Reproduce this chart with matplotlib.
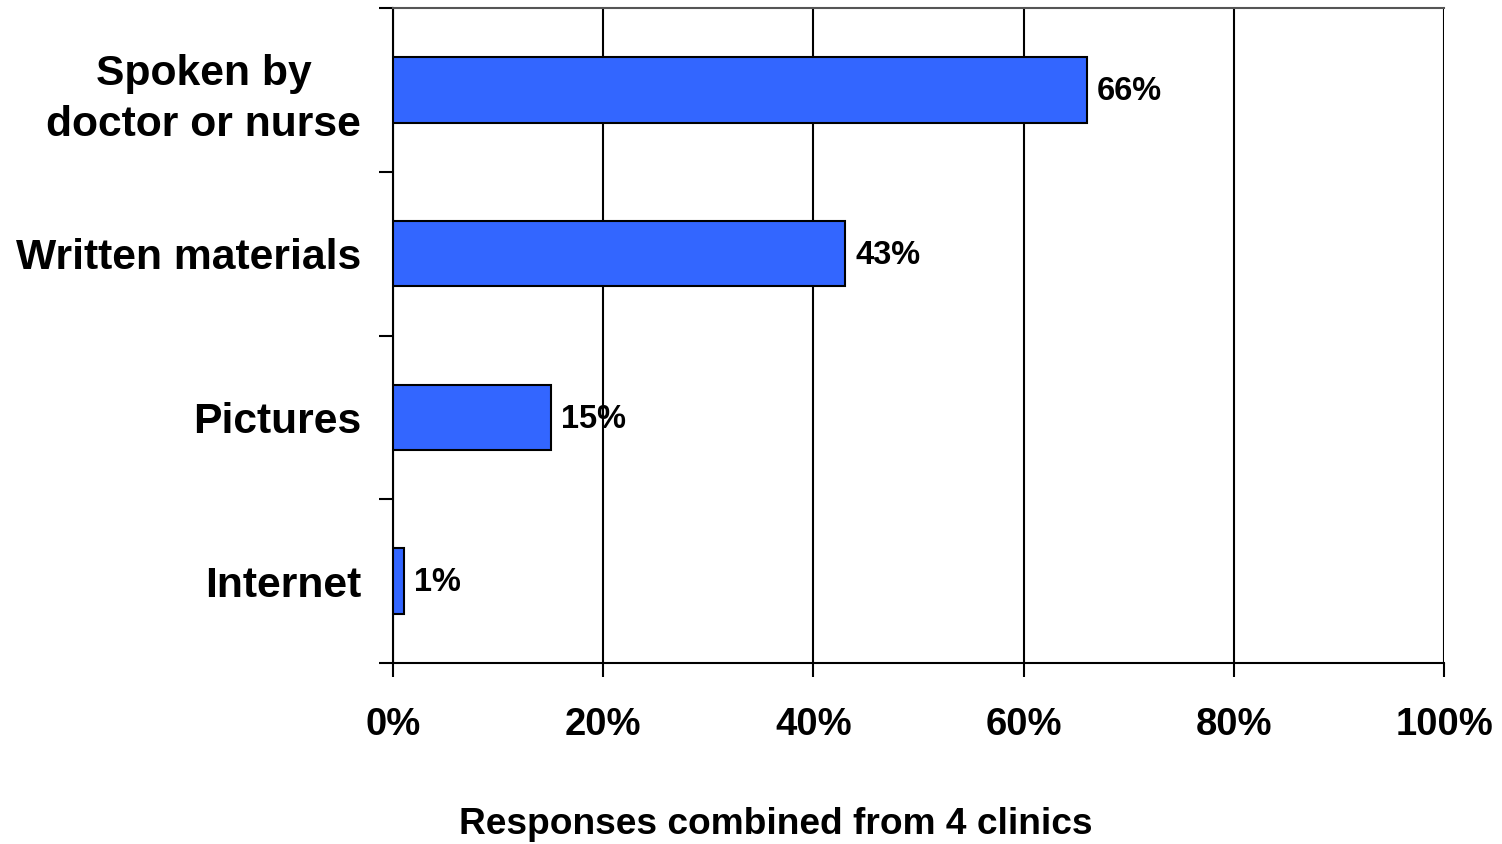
import matplotlib.pyplot as plt
from matplotlib.ticker import FixedLocator, NullFormatter

# ==============================
# DATOS
# ==============================

categories = ["Spoken by\ndoctor or nurse", "Written materials", "Pictures", "Internet"]
values = [66, 43, 15, 1]
value_labels = ["66%", "43%", "15%", "1%"]
x_ticks = [0, 20, 40, 60, 80, 100]
x_tick_labels = ["0%", "20%", "40%", "60%", "80%", "100%"]

# ==============================
# GRAFICO
# ==============================

plt.rcParams["font.family"] = ["Liberation Sans", "DejaVu Sans"]
plt.rcParams["font.weight"] = "bold"

fig = plt.figure(figsize=(15.02, 8.44), dpi=100)
ax = fig.add_axes([393 / 1502, 1 - 663 / 844, 1051 / 1502, 655 / 844])

n = len(categories)
pos = list(range(n))[::-1]  # first category on top
ax.barh(pos, values, height=0.4, color="#3366FF", edgecolor="black", linewidth=1.5, zorder=3)

for p, v, lab in zip(pos, values, value_labels):
    ax.text(v + 1, p - 0.01, lab, va="center", ha="left", fontsize=23.5, fontweight="bold", zorder=4)

ax.set_xlim(0, 100)
ax.set_ylim(-0.5, n - 0.5)

ax.set_xticks(x_ticks)
ax.set_xticklabels(x_tick_labels, fontsize=27.5, fontweight="bold")
ax.tick_params(axis="x", length=10, width=1.5, pad=22)

# category labels at bar centres, tick marks at band boundaries
ax.yaxis.set_major_locator(FixedLocator([i - 0.5 for i in range(n + 1)]))
ax.yaxis.set_major_formatter(NullFormatter())
ax.yaxis.set_minor_locator(FixedLocator(pos))
ax.set_yticklabels(categories, minor=True, fontsize=30.7, fontweight="bold", ha="right",
                   multialignment="center", linespacing=1.35)
ax.tick_params(axis="y", which="major", length=10, width=1.5)
ax.tick_params(axis="y", which="minor", length=0, pad=23)

ax.grid(axis="x", color="black", linewidth=1.5, zorder=1)
for s in ["left", "bottom", "top"]:
    ax.spines[s].set_linewidth(1.5)
ax.spines["top"].set_color("#555555")
ax.spines["right"].set_visible(False)

fig.text(776 / 1502, 1 - 825 / 844, "Responses combined from 4 clinics",
         ha="center", va="center", fontsize=26.7, fontweight="bold")

fig.savefig("out.png", dpi=100)
